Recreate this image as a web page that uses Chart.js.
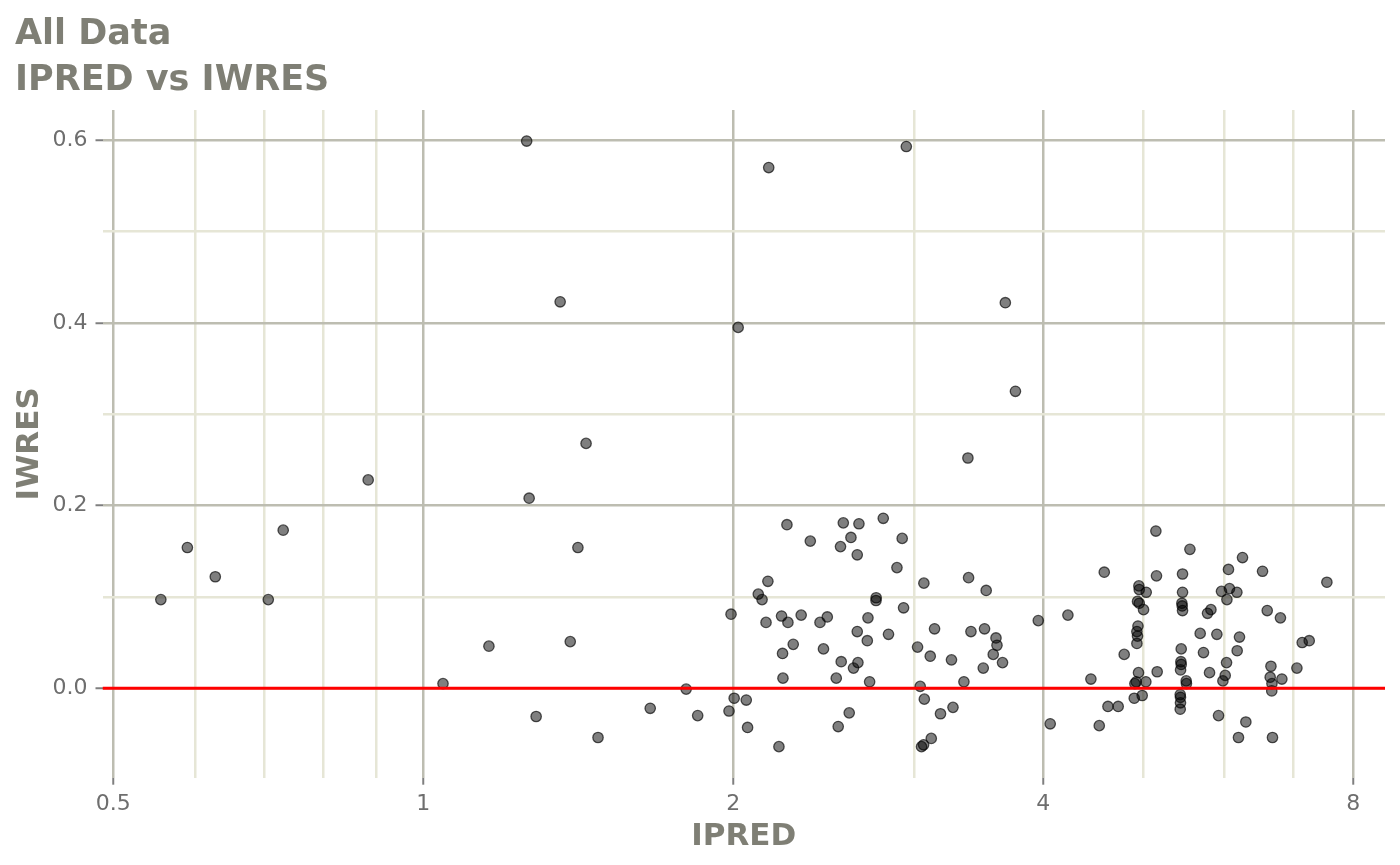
<!DOCTYPE html>
<html>
<head>
<meta charset="utf-8">
<title>IPRED vs IWRES</title>
<script src="https://cdn.jsdelivr.net/npm/chart.js@4.4.1/dist/chart.umd.min.js"></script>
<style>
  html, body { margin: 0; padding: 0; background: #ffffff; }
  #wrap { width: 1400px; height: 865px; }
</style>
</head>
<body>
<div id="wrap"><canvas id="residChart" width="1400" height="865"></canvas></div>
<script>
// IPRED (x) and IWRES (y)
const ipred = [
    0.556, 0.590, 0.628, 0.707, 0.731, 0.884, 1.045, 1.158, 1.260, 1.267,
    1.287, 1.358, 1.389, 1.413, 1.439, 1.478, 1.661,
    2.165, 2.022, 2.945, 3.675, 3.759, 3.380,
    2.255, 2.376, 2.558, 2.649, 2.797, 2.602, 2.542, 2.918, 2.639, 2.884,
    3.063, 3.385, 3.521, 2.161, 2.115, 2.133, 2.753, 2.752, 1.990, 2.152,
    2.228, 2.260, 2.328, 2.428, 2.468, 2.703, 2.927, 2.639, 2.699, 2.830,
    3.137, 3.403, 3.508, 3.599, 3.607, 3.577, 3.652, 3.498, 2.287, 2.233,
    2.447, 3.020, 3.107, 3.258, 2.546, 2.643, 2.617, 2.235, 2.518, 2.713,
    3.350, 1.800, 3.038, 2.004, 2.059, 1.981, 1.847, 2.065, 2.592, 2.529,
    3.066, 3.179, 3.269, 2.215, 3.114, 3.061, 3.047,
    5.146, 5.553, 6.246, 6.053, 6.532, 4.585, 5.153, 5.462, 7.543, 4.954,
    4.958, 5.036, 5.462, 5.959, 6.067, 6.168, 6.032, 4.939, 4.958, 5.006,
    5.454, 5.458, 5.462, 5.820, 5.776, 6.601, 6.799, 3.956, 4.227, 4.944,
    4.932, 4.939, 4.932, 5.682, 5.898, 6.204, 7.138, 7.251, 5.446, 5.724,
    6.172, 4.794, 5.442, 5.446, 5.438, 6.027, 6.656, 7.054, 4.950, 5.161,
    5.802, 6.009, 5.978, 6.645, 6.821, 4.450, 5.032, 4.910, 5.507, 5.510,
    6.671, 6.668, 4.925, 4.991, 4.903, 5.434, 5.437, 5.437, 5.434, 4.623,
    4.730, 4.063, 4.534, 5.920, 6.293, 6.190, 6.679
];
const iwres = [
    0.097, 0.154, 0.122, 0.097, 0.173, 0.228, 0.005, 0.046, 0.599, 0.208,
    -0.031, 0.423, 0.051, 0.154, 0.268, -0.054, -0.022,
    0.570, 0.395, 0.593, 0.422, 0.325, 0.252,
    0.179, 0.161, 0.181, 0.180, 0.186, 0.165, 0.155, 0.164, 0.146, 0.132,
    0.115, 0.121, 0.107, 0.117, 0.103, 0.097, 0.099, 0.096, 0.081, 0.072,
    0.079, 0.072, 0.080, 0.072, 0.078, 0.077, 0.088, 0.062, 0.052, 0.059,
    0.065, 0.062, 0.065, 0.055, 0.047, 0.037, 0.028, 0.022, 0.048, 0.038,
    0.043, 0.045, 0.035, 0.031, 0.029, 0.028, 0.022, 0.011, 0.011, 0.007,
    0.007, -0.001, 0.002, -0.011, -0.013, -0.025, -0.030, -0.043, -0.027, -0.042,
    -0.012, -0.028, -0.021, -0.064, -0.055, -0.062, -0.064,
    0.172, 0.152, 0.143, 0.130, 0.128, 0.127, 0.123, 0.125, 0.116, 0.112,
    0.108, 0.105, 0.105, 0.106, 0.109, 0.105, 0.097, 0.095, 0.093, 0.086,
    0.093, 0.090, 0.085, 0.086, 0.082, 0.085, 0.077, 0.074, 0.080, 0.068,
    0.062, 0.057, 0.049, 0.060, 0.059, 0.056, 0.050, 0.052, 0.043, 0.039,
    0.041, 0.037, 0.029, 0.026, 0.020, 0.028, 0.024, 0.022, 0.017, 0.018,
    0.017, 0.014, 0.008, 0.012, 0.010, 0.010, 0.007, 0.005, 0.008, 0.005,
    0.005, -0.003, 0.007, -0.008, -0.011, -0.007, -0.010, -0.016, -0.023, -0.020,
    -0.020, -0.039, -0.041, -0.030, -0.037, -0.054, -0.054
];

// axis limits and breaks
const xLimits = [0.488, 8.59];
const yLimits = [-0.098, 0.633];
const xMajor = [0.5, 1, 2, 4, 8];
const xMinor = [0.6, 0.7, 0.8, 0.9, 3, 5, 6, 7];
const yMajor = [0, 0.2, 0.4, 0.6];
const yMinor = [0.1, 0.3, 0.5];
const refLine = 0;

const majorGrid = '#bdbdb1';
const minorGrid = '#e6e6d6';
const textGrey = '#7f7f75';
const tickGrey = '#6e6e6e';

const points = ipred.map((x, i) => ({x: x, y: iwres[i]}));

function isMajor(list, v) {
    return list.some(m => Math.abs(m - v) < 1e-9);
}

new Chart(document.getElementById('residChart'), {
    type: 'scatter',
    data: {
        datasets: [{
            type: 'line',
            label: 'zero',
            data: [{x: xLimits[0], y: refLine}, {x: xLimits[1], y: refLine}],
            borderColor: '#ff0000',
            borderWidth: 3,
            pointRadius: 0,
            order: 0
        }, {
            label: 'IWRES',
            data: points,
            backgroundColor: 'rgba(0,0,0,0.5)',
            borderColor: 'rgba(0,0,0,0.65)',
            borderWidth: 1.3,
            pointRadius: 5.2,
            order: 1
        }]
    },
    options: {
        responsive: false,
        animation: false,
        layout: {padding: {left: 15, right: 15, top: 0, bottom: 0}},
        plugins: {
            legend: {display: false},
            tooltip: {enabled: false},
            title: {
                display: true,
                text: ['All Data', 'IPRED vs IWRES'],
                align: 'start',
                color: textGrey,
                font: {family: 'DejaVu Sans', size: 35, weight: 'bold', lineHeight: 1.314},
                padding: {top: 12, bottom: 6}
            }
        },
        scales: {
            x: {
                type: 'logarithmic',
                min: xLimits[0],
                max: xLimits[1],
                afterBuildTicks: scale => {
                    scale.ticks = xMajor.concat(xMinor).sort((a, b) => a - b).map(v => ({value: v}));
                },
                afterFit: scale => { scale.height = 87.3; },
                ticks: {
                    autoSkip: false,
                    maxRotation: 0,
                    padding: 6,
                    color: tickGrey,
                    font: {family: 'DejaVu Sans', size: 22},
                    callback: v => isMajor(xMajor, v) ? String(v) : ''
                },
                grid: {
                    lineWidth: 2.5,
                    color: ctx => isMajor(xMajor, ctx.tick.value) ? majorGrid : minorGrid,
                    tickColor: ctx => isMajor(xMajor, ctx.tick.value) ? '#7f7f7f' : 'rgba(0,0,0,0)',
                    tickLength: 7,
                    tickWidth: 2
                },
                border: {display: false},
                title: {
                    display: true,
                    text: 'IPRED',
                    color: textGrey,
                    font: {family: 'DejaVu Sans', size: 31, weight: 'bold', lineHeight: 0.95},
                    padding: {top: 0, bottom: 13}
                }
            },
            y: {
                min: yLimits[0],
                max: yLimits[1],
                afterBuildTicks: scale => {
                    scale.ticks = yMajor.concat(yMinor).sort((a, b) => a - b).map(v => ({value: v}));
                },
                afterFit: scale => { scale.width = 87.5; },
                ticks: {
                    padding: 8,
                    color: tickGrey,
                    font: {family: 'DejaVu Sans', size: 22},
                    callback: v => isMajor(yMajor, v) ? v.toFixed(1) : ''
                },
                grid: {
                    lineWidth: 2.5,
                    color: ctx => isMajor(yMajor, ctx.tick.value) ? majorGrid : minorGrid,
                    tickColor: ctx => isMajor(yMajor, ctx.tick.value) ? '#7f7f7f' : 'rgba(0,0,0,0)',
                    tickLength: 7,
                    tickWidth: 2
                },
                border: {display: false},
                title: {
                    display: true,
                    text: 'IWRES',
                    color: textGrey,
                    font: {family: 'DejaVu Sans', size: 31, weight: 'bold', lineHeight: 0.95},
                    padding: {top: 0, bottom: 0}
                }
            }
        }
    }
});
</script>
</body>
</html>
